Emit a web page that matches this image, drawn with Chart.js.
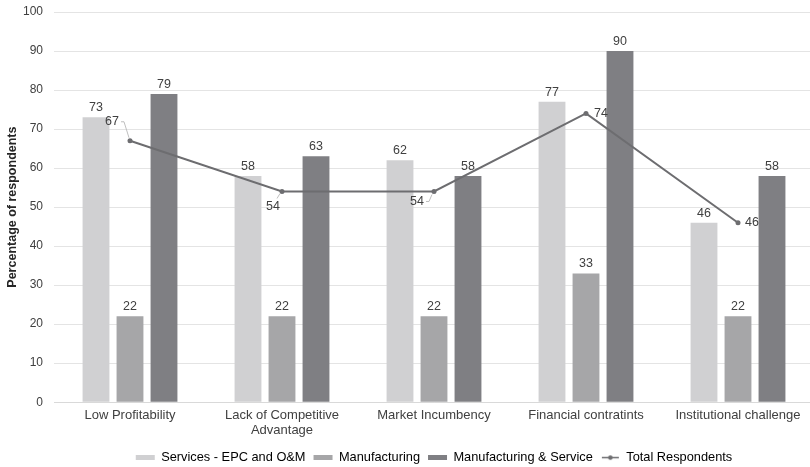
<!DOCTYPE html>
<html>
<head>
<meta charset="utf-8">
<script src="https://cdn.jsdelivr.net/npm/chart.js@4.4.1/dist/chart.umd.min.js"></script>
<style>
  html, body { margin: 0; padding: 0; background: #ffffff; overflow: hidden; }
  #wrap { width: 810px; height: 467px; overflow: hidden; }
</style>
</head>
<body>
<div id="wrap"><canvas id="c" width="818" height="467"></canvas></div>
<script>
// Survey barriers by respondent group (percent of respondents)
const categories = [
  'Low Profitability',
  ['Lack of Competitive', 'Advantage'],
  'Market Incumbency',
  'Financial contratints',
  'Institutional challenge'
];
const servicesEpcOm = [73, 58, 62, 77, 46];
const manufacturing = [22, 22, 22, 33, 22];
const manufacturingService = [79, 63, 58, 90, 58];
const totalRespondents = [67, 54, 54, 74, 46];
const yTicks = [0, 10, 20, 30, 40, 50, 60, 70, 80, 90, 100];

const FONT = "'Liberation Sans', Arial, sans-serif";
const TEXT = '#404040';
const LINE = '#6d6d70';
const LEGEND_SHIFT = 25;

// legend marker for the line series: a short stroke with a dot
const lineMarker = document.createElement('canvas');
lineMarker.width = 19;
lineMarker.height = 7;
(function () {
  const m = lineMarker.getContext('2d');
  m.strokeStyle = LINE;
  m.lineWidth = 1.5;
  m.beginPath();
  m.moveTo(1, 3.5);
  m.lineTo(18, 3.5);
  m.stroke();
  m.fillStyle = LINE;
  m.beginPath();
  m.arc(9.5, 3.5, 2.3, 0, Math.PI * 2);
  m.fill();
})();

// where each value label of the line sits relative to its point
const lineLabelPlacement = [
  { dx: -18, dy: -19, leader: 'up' },
  { dx: -9, dy: 15, leader: 'down' },
  { dx: -17, dy: 10, leader: 'side' },
  { dx: 15, dy: 0, leader: null },
  { dx: 14, dy: 0, leader: null }
];

const valueLabels = {
  id: 'valueLabels',
  afterUpdate(chart) {
    // legend sits a little right of centre
    const lg = chart.legend;
    if (!lg) return;
    lg.left += LEGEND_SHIFT;
    lg.right += LEGEND_SHIFT;
    lg.adjustHitBoxes();
  },
  afterDatasetsDraw(chart) {
    const ctx = chart.ctx;
    ctx.save();
    ctx.font = '12.5px ' + FONT;
    ctx.fillStyle = TEXT;
    ctx.textAlign = 'center';
    ctx.textBaseline = 'alphabetic';
    [0, 1, 2].forEach(di => {
      const meta = chart.getDatasetMeta(di);
      meta.data.forEach((bar, i) => {
        ctx.fillText(String(chart.data.datasets[di].data[i]), bar.x, bar.y - 6);
      });
    });
    const lm = chart.getDatasetMeta(3);
    ctx.textBaseline = 'middle';
    lm.data.forEach((pt, i) => {
      const p = lineLabelPlacement[i];
      const lx = pt.x + p.dx, ly = pt.y + p.dy;
      if (p.leader) {
        ctx.strokeStyle = '#bfbfbf';
        ctx.lineWidth = 1;
        ctx.beginPath();
        if (p.leader === 'up') {
          ctx.moveTo(lx + 9, ly);
          ctx.lineTo(lx + 12, ly);
          ctx.lineTo(pt.x - 1, pt.y - 3);
        } else if (p.leader === 'down') {
          ctx.moveTo(lx + 4, ly - 8);
          ctx.lineTo(pt.x - 2, pt.y + 2);
        } else {
          ctx.moveTo(lx + 9, ly);
          ctx.lineTo(lx + 12, ly);
          ctx.lineTo(pt.x - 2, pt.y + 3);
        }
        ctx.stroke();
      }
      ctx.fillStyle = TEXT;
      ctx.fillText(String(chart.data.datasets[3].data[i]), lx, ly);
    });
    ctx.restore();
  }
};

new Chart(document.getElementById('c'), {
  type: 'bar',
  data: {
    labels: categories,
    datasets: [
      { label: 'Services - EPC and O&M', data: servicesEpcOm, backgroundColor: '#d0d0d2', order: 2 },
      { label: 'Manufacturing', data: manufacturing, backgroundColor: '#a6a6a8', order: 2 },
      { label: 'Manufacturing & Service', data: manufacturingService, backgroundColor: '#7f7f83', order: 2 },
      {
        type: 'line', label: 'Total Respondents', data: totalRespondents,
        borderColor: LINE, backgroundColor: LINE, borderWidth: 2,
        pointRadius: 2.5, pointBackgroundColor: LINE, pointBorderWidth: 0,
        pointStyle: 'circle', tension: 0, order: 1
      }
    ]
  },
  options: {
    responsive: false,
    animation: false,
    devicePixelRatio: 1,
    layout: { padding: { top: 12, right: 0, left: 0, bottom: -7 } },
    datasets: { bar: { categoryPercentage: 0.671, barPercentage: 0.79 } },
    plugins: {
      tooltip: { enabled: false },
      legend: {
        position: 'bottom',
        labels: {
          font: { family: FONT, size: 12.8 },
          color: TEXT,
          boxWidth: 19,
          boxHeight: 5,
          padding: 8,
          usePointStyle: true,
          pointStyleWidth: 19,
          generateLabels(chart) {
            return chart.data.datasets.map((ds, i) => ({
              text: ds.label,
              fillStyle: ds.backgroundColor,
              strokeStyle: ds.backgroundColor,
              lineWidth: 0,
              pointStyle: i === 3 ? lineMarker : 'rect',
              datasetIndex: i,
              hidden: false
            }));
          }
        }
      }
    },
    scales: {
      x: {
        grid: { display: false },
        border: { color: '#d9d9d9' },
        afterFit(scale) {
          scale.height = 41;
          scale.paddingLeft = 0;
          scale.paddingRight = 0;
        },
        ticks: { font: { family: FONT, size: 13, lineHeight: 1.2 }, color: TEXT, maxRotation: 0, padding: -3 }
      },
      y: {
        min: 0, max: 100,
        afterBuildTicks(scale) { scale.ticks = yTicks.map(v => ({ value: v })); },
        afterFit(scale) {
          scale.width = 54;
          scale.paddingTop = 0;
          scale.paddingBottom = 0;
        },
        grid: { color: '#e4e4e4', drawTicks: true, tickLength: 0 },
        border: { display: false },
        ticks: { font: { family: FONT, size: 12 }, color: TEXT, padding: 11 },
        title: {
          display: true, text: 'Percentage of respondents',
          font: { family: FONT, size: 12.5, weight: 'bold' }, color: '#262626', padding: { top: 5, bottom: 2 }
        }
      }
    }
  },
  plugins: [valueLabels]
});
</script>
</body>
</html>
